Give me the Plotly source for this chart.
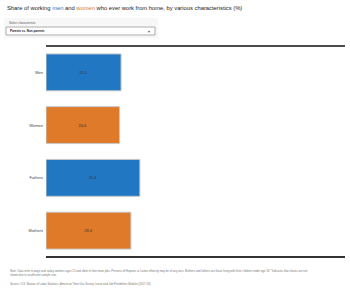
import plotly.graph_objects as go

categories = ["Men", "Women", "Fathers", "Mothers"]
values = [25.1, 24.6, 31.4, 28.4]
colors = ["#2277c2", "#e07a2b", "#2277c2", "#e07a2b"]

fig = go.Figure(go.Bar(
    y=categories, x=values, orientation="h",
    marker=dict(color=colors, line=dict(color="#c8c8c8", width=1)),
    text=[f"{v:.1f}" for v in values], textposition="inside", insidetextanchor="middle",
    textfont=dict(size=4, color="#333"),
    hoverinfo="skip",
))

fig.update_layout(
    width=350, height=292,
    margin=dict(l=46, r=5, t=46, b=35),
    paper_bgcolor="white", plot_bgcolor="white",
    showlegend=False, bargap=0.3,
    font=dict(family="Liberation Sans, Arial, sans-serif"),
    xaxis=dict(range=[0, 100], showticklabels=False, showgrid=False, zeroline=False, fixedrange=True),
    yaxis=dict(autorange="reversed", showgrid=False, ticks="", tickfont=dict(size=4, color="#444"),
               ticklabelstandoff=2),
    shapes=[
        dict(type="rect", xref="paper", yref="paper",
             x0=-42/299, x1=112/299, y0=1+8/211, y1=1+28/211,
             line=dict(width=0), fillcolor="#f7f7f7", layer="below"),
        dict(type="line", xref="paper", yref="paper", x0=0, x1=1, y0=1, y1=1,
             line=dict(color="#111", width=1.5)),
        dict(type="line", xref="paper", yref="paper", x0=0, x1=1, y0=0, y1=0,
             line=dict(color="#333", width=2)),
        dict(type="rect", xref="paper", yref="paper",
             x0=-40/299, x1=109/299, y0=1+11/211, y1=1+19/211,
             line=dict(color="#999", width=0.8), fillcolor="white"),
    ],
    annotations=[
        dict(xref="paper", yref="paper", x=-41/299, y=1+38/211, xanchor="left", yanchor="middle",
             showarrow=False, align="left",
             text="Share of working <span style='color:#2277c2'>men</span> and <span style='color:#e07a2b'>women</span> who ever work from home, by various characteristics (%)",
             font=dict(size=5.8, color="#222")),
        dict(xref="paper", yref="paper", x=-39/299, y=1+23/211, xanchor="left", yanchor="middle",
             showarrow=False, text="Select characteristic", font=dict(size=3, color="#555")),
        dict(xref="paper", yref="paper", x=-38/299, y=1+15/211, xanchor="left", yanchor="middle",
             showarrow=False, text="<b>Parents vs. Non-parents</b>", font=dict(size=3, color="#222")),
        dict(xref="paper", yref="paper", x=106/299, y=1+15/211, xanchor="right", yanchor="middle",
             showarrow=False, text="▾", font=dict(size=4, color="#555")),
        dict(xref="paper", yref="paper", x=-38/299, y=-16/211, xanchor="left", yanchor="middle",
             showarrow=False, align="left",
             text="Note: Data refer to wage and salary workers ages 15 and older in their main jobs. Persons of Hispanic or Latino ethnicity may be of any race. Mothers and fathers are those living with their children under age 18. *Indicates that shares are not<br>shown due to insufficient sample size.",
             font=dict(size=2.8, color="#777")),
        dict(xref="paper", yref="paper", x=-38/299, y=-27/211, xanchor="left", yanchor="middle",
             showarrow=False, align="left",
             text="Source: U.S. Bureau of Labor Statistics, American Time Use Survey Leave and Job Flexibilities Module (2017-18).",
             font=dict(size=2.8, color="#777")),
    ],
)

fig.write_html("out.html")
